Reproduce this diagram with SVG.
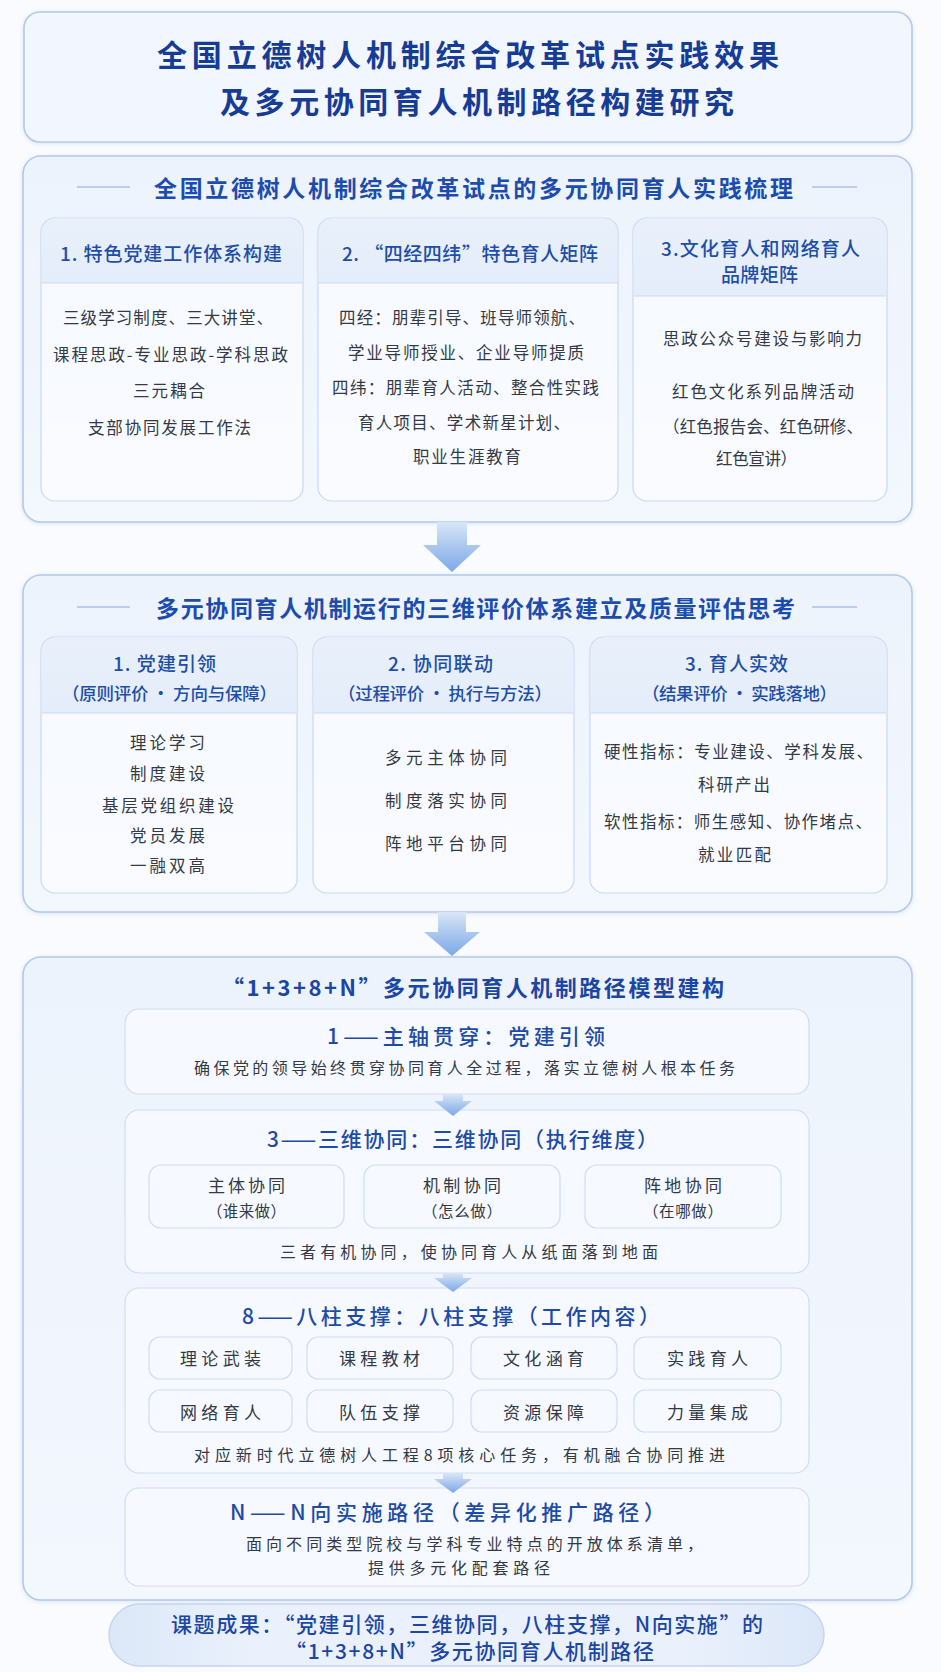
<svg xmlns="http://www.w3.org/2000/svg" width="941" height="1672" viewBox="0 0 941 1672">
<defs>
<linearGradient id="gBig" x1="0" y1="0" x2="0" y2="1"><stop offset="0" stop-color="#edf3fc"/><stop offset="1" stop-color="#f3f7fe"/></linearGradient>
<linearGradient id="gCol" x1="0" y1="0" x2="0" y2="1"><stop offset="0" stop-color="#f6f9ff"/><stop offset="1" stop-color="#f9fbff"/></linearGradient>
<linearGradient id="gBand" x1="0" y1="0" x2="0" y2="1"><stop offset="0" stop-color="#e9f0fb"/><stop offset="1" stop-color="#e4edfa"/></linearGradient>
<linearGradient id="gArrow" x1="0" y1="0" x2="0" y2="1"><stop offset="0" stop-color="#d9e6f8"/><stop offset="0.5" stop-color="#a9c6ef"/><stop offset="1" stop-color="#7ea8e6"/></linearGradient>
<linearGradient id="gPill" x1="0" y1="0" x2="1" y2="0"><stop offset="0" stop-color="#dbe7f8"/><stop offset="0.2" stop-color="#eaf1fc"/><stop offset="0.8" stop-color="#eaf1fc"/><stop offset="1" stop-color="#dbe7f8"/></linearGradient>
<filter id="sh" x="-5%" y="-5%" width="110%" height="110%"><feDropShadow dx="0" dy="1" stdDeviation="2" flood-color="#9fb8e0" flood-opacity="0.35"/></filter>
<style>
text{font-family:"Noto Sans CJK SC","Noto Sans",sans-serif;dominant-baseline:central}
.big{fill:url(#gBig);stroke:#b3c9ec;stroke-width:1.6}
.col{fill:url(#gCol);stroke:#c9d9f1;stroke-width:1.2}
.band{fill:url(#gBand)}
.div{stroke:#c9d9f1;stroke-width:1.2}
.deco{stroke:#a8c0e8;stroke-width:1.5}
.sub{fill:#f6f9ff;stroke:#cfdcf2;stroke-width:1.2}
.t0{font-size:30px;font-weight:700;fill:#163c96}
.t1{font-size:23px;font-weight:700;fill:#1d4caf}
.h{font-size:19px;font-weight:500;fill:#1f4ea8}
.hs{font-size:17.5px;font-weight:500;fill:#1f4ea8}
.b{font-size:16.5px;fill:#333a45}
.t3{font-size:22px;font-weight:700;fill:#1c46a4}
.h3{font-size:21px;font-weight:500;fill:#1d4ba8}
.s3{font-size:16px;fill:#333a45}
.p{font-size:17px;fill:#333a45}
.ps{font-size:15.5px;fill:#333a45}
.pill{font-size:21px;font-weight:500;fill:#1c46a4}
.arr{fill:url(#gArrow)}
</style>
</defs>
<rect x="0" y="0" width="941" height="1672" fill="#f9fbfe"/>

<g id="title" filter="url(#sh)">
<rect x="24" y="12" width="888" height="130" rx="16" fill="#f2f6fe" stroke="#b3c9ec" stroke-width="1.6"/>
</g>
<g id="title-text">
<text class="t0" x="157" y="53" textLength="622" lengthAdjust="spacing">全国立德树人机制综合改革试点实践效果</text>
<text class="t0" x="220" y="100" textLength="514" lengthAdjust="spacing">及多元协同育人机制路径构建研究</text>
</g>

<g id="section1">
<rect class="big" x="23" y="156" width="889" height="366" rx="18" filter="url(#sh)"/>
<line class="deco" x1="77" y1="187" x2="130" y2="187"/>
<line class="deco" x1="812" y1="187" x2="857" y2="187"/>
<text class="t1" x="154" y="187" textLength="639" lengthAdjust="spacing">全国立德树人机制综合改革试点的多元协同育人实践梳理</text>
</g>
<g id="s1-col1">
<rect class="col" x="41" y="218" width="262" height="283" rx="14"/>
<path class="band" d="M41.6,283 V232 a14,14 0 0 1 14,-13.4 H288.4 a14,14 0 0 1 14,13.4 V283 Z"/>
<line class="div" x1="41.6" y1="283" x2="302.4" y2="283"/>
<text class="h" x="60" y="252" textLength="222" lengthAdjust="spacing">1. 特色党建工作体系构建</text>
<text class="b" x="63" y="317" textLength="210" lengthAdjust="spacing">三级学习制度、三大讲堂、</text>
<text class="b" x="53" y="354" textLength="235" lengthAdjust="spacing">课程思政-专业思政-学科思政</text>
<text class="b" x="133" y="390" textLength="72" lengthAdjust="spacing">三元耦合</text>
<text class="b" x="88" y="427" textLength="163" lengthAdjust="spacing">支部协同发展工作法</text>
</g>
<g id="s1-col2">
<rect class="col" x="318" y="218" width="300" height="283" rx="14"/>
<path class="band" d="M318.6,283 V232 a14,14 0 0 1 14,-13.4 H603.4 a14,14 0 0 1 14,13.4 V283 Z"/>
<line class="div" x1="318.6" y1="283" x2="617.4" y2="283"/>
<text class="h" x="342" y="252" textLength="256" lengthAdjust="spacing">2. “四经四纬”特色育人矩阵</text>
<text class="b" x="339" y="317" textLength="246" lengthAdjust="spacing">四经：朋辈引导、班导师领航、</text>
<text class="b" x="348" y="352" textLength="236" lengthAdjust="spacing">学业导师授业、企业导师提质</text>
<text class="b" x="332" y="387" textLength="267" lengthAdjust="spacing">四纬：朋辈育人活动、整合性实践</text>
<text class="b" x="358" y="422" textLength="212" lengthAdjust="spacing">育人项目、学术新星计划、</text>
<text class="b" x="413" y="456" textLength="108" lengthAdjust="spacing">职业生涯教育</text>
</g>
<g id="s1-col3">
<rect class="col" x="633" y="218" width="254" height="283" rx="14"/>
<path class="band" d="M633.6,296 V232 a14,14 0 0 1 14,-13.4 H872.4 a14,14 0 0 1 14,13.4 V296 Z"/>
<line class="div" x1="633.6" y1="296" x2="886.4" y2="296"/>
<text class="h" x="661" y="247" textLength="199" lengthAdjust="spacing">3.文化育人和网络育人</text>
<text class="h" x="721" y="273" textLength="77" lengthAdjust="spacing">品牌矩阵</text>
<text class="b" x="663" y="338" textLength="199" lengthAdjust="spacing">思政公众号建设与影响力</text>
<text class="b" x="672" y="391" textLength="182" lengthAdjust="spacing">红色文化系列品牌活动</text>
<text class="b" x="663" y="426" textLength="200" lengthAdjust="spacing">（红色报告会、红色研修、</text>
<text class="b" x="716" y="458" textLength="81" lengthAdjust="spacing">红色宣讲）</text>
</g>

<g id="section2">
<rect class="big" x="23" y="575" width="889" height="337" rx="18" filter="url(#sh)"/>
<line class="deco" x1="77" y1="607" x2="130" y2="607"/>
<line class="deco" x1="812" y1="607" x2="857" y2="607"/>
<text class="t1" x="156" y="607" textLength="639" lengthAdjust="spacing">多元协同育人机制运行的三维评价体系建立及质量评估思考</text>
</g>
<g id="s2-col1">
<rect class="col" x="41" y="637" width="256" height="256" rx="14"/>
<path class="band" d="M41.6,713 V651 a14,14 0 0 1 14,-13.4 H282.4 a14,14 0 0 1 14,13.4 V713 Z"/>
<line class="div" x1="41.6" y1="713" x2="296.4" y2="713"/>
<text class="h" x="113" y="662" textLength="103" lengthAdjust="spacing">1. 党建引领</text>
<text class="hs" x="62" y="692" textLength="215" lengthAdjust="spacing">（原则评价 · 方向与保障）</text>
<text class="b" x="130" y="742" textLength="75" lengthAdjust="spacing">理论学习</text>
<text class="b" x="130" y="773" textLength="75" lengthAdjust="spacing">制度建设</text>
<text class="b" x="102" y="805" textLength="132" lengthAdjust="spacing">基层党组织建设</text>
<text class="b" x="130" y="835" textLength="75" lengthAdjust="spacing">党员发展</text>
<text class="b" x="130" y="865" textLength="75" lengthAdjust="spacing">一融双高</text>
</g>
<g id="s2-col2">
<rect class="col" x="313" y="637" width="261" height="256" rx="14"/>
<path class="band" d="M313.6,713 V651 a14,14 0 0 1 14,-13.4 H559.4 a14,14 0 0 1 14,13.4 V713 Z"/>
<line class="div" x1="313.6" y1="713" x2="573.4" y2="713"/>
<text class="h" x="388" y="662" textLength="105" lengthAdjust="spacing">2. 协同联动</text>
<text class="hs" x="338" y="692" textLength="214" lengthAdjust="spacing">（过程评价 · 执行与方法）</text>
<text class="b" x="385" y="757" textLength="122" lengthAdjust="spacing">多元主体协同</text>
<text class="b" x="385" y="800" textLength="122" lengthAdjust="spacing">制度落实协同</text>
<text class="b" x="385" y="843" textLength="122" lengthAdjust="spacing">阵地平台协同</text>
</g>
<g id="s2-col3">
<rect class="col" x="590" y="637" width="297" height="256" rx="14"/>
<path class="band" d="M590.6,713 V651 a14,14 0 0 1 14,-13.4 H872.4 a14,14 0 0 1 14,13.4 V713 Z"/>
<line class="div" x1="590.6" y1="713" x2="886.4" y2="713"/>
<text class="h" x="685" y="662" textLength="103" lengthAdjust="spacing">3. 育人实效</text>
<text class="hs" x="642" y="692" textLength="195" lengthAdjust="spacing">（结果评价 · 实践落地）</text>
<text class="b" x="604" y="751" textLength="269" lengthAdjust="spacing">硬性指标：专业建设、学科发展、</text>
<text class="b" x="698" y="784" textLength="72" lengthAdjust="spacing">科研产出</text>
<text class="b" x="604" y="821" textLength="268" lengthAdjust="spacing">软性指标：师生感知、协作堵点、</text>
<text class="b" x="698" y="854" textLength="73" lengthAdjust="spacing">就业匹配</text>
</g>

<g id="section3">
<rect class="big" x="23" y="957" width="889" height="643" rx="18" filter="url(#sh)"/>
<text class="t3" x="222" y="986" textLength="502" lengthAdjust="spacing">“1+3+8+N”多元协同育人机制路径模型建构</text>
</g>
<g id="s3-axis">
<rect class="sub" x="125" y="1009" width="684" height="85" rx="14"/>
<text class="h3" x="327" y="1035" textLength="278" lengthAdjust="spacing">1——主轴贯穿：党建引领</text>
<text class="s3" x="194" y="1067" textLength="541" lengthAdjust="spacing">确保党的领导始终贯穿协同育人全过程，落实立德树人根本任务</text>
</g>
<g id="s3-three">
<rect class="sub" x="125" y="1110" width="684" height="163" rx="14"/>
<text class="h3" x="267" y="1138" textLength="391" lengthAdjust="spacing">3——三维协同：三维协同（执行维度）</text>
<rect class="sub" x="149" y="1165" width="195" height="63" rx="12"/>
<rect class="sub" x="364" y="1165" width="196" height="63" rx="12"/>
<rect class="sub" x="585" y="1165" width="196" height="63" rx="12"/>
<text class="p" x="208" y="1184" textLength="77" lengthAdjust="spacing">主体协同</text>
<text class="ps" x="207" y="1210" textLength="79" lengthAdjust="spacing">（谁来做）</text>
<text class="p" x="423" y="1184" textLength="78" lengthAdjust="spacing">机制协同</text>
<text class="ps" x="422" y="1210" textLength="80" lengthAdjust="spacing">（怎么做）</text>
<text class="p" x="644" y="1184" textLength="78" lengthAdjust="spacing">阵地协同</text>
<text class="ps" x="643" y="1210" textLength="80" lengthAdjust="spacing">（在哪做）</text>
<text class="s3" x="280" y="1251" textLength="378" lengthAdjust="spacing">三者有机协同，使协同育人从纸面落到地面</text>
</g>
<g id="s3-eight">
<rect class="sub" x="125" y="1288" width="684" height="185" rx="14"/>
<text class="h3" x="242" y="1315" textLength="418" lengthAdjust="spacing">8——八柱支撑：八柱支撑（工作内容）</text>
<rect class="sub" x="149" y="1337" width="143" height="42" rx="11"/>
<rect class="sub" x="307" y="1337" width="146" height="42" rx="11"/>
<rect class="sub" x="471" y="1337" width="146" height="42" rx="11"/>
<rect class="sub" x="634" y="1337" width="147" height="42" rx="11"/>
<rect class="sub" x="149" y="1390" width="143" height="42" rx="11"/>
<rect class="sub" x="307" y="1390" width="146" height="42" rx="11"/>
<rect class="sub" x="471" y="1390" width="146" height="42" rx="11"/>
<rect class="sub" x="634" y="1390" width="147" height="42" rx="11"/>
<text class="p" x="180" y="1357" textLength="81" lengthAdjust="spacing">理论武装</text>
<text class="p" x="339" y="1357" textLength="81" lengthAdjust="spacing">课程教材</text>
<text class="p" x="503" y="1357" textLength="81" lengthAdjust="spacing">文化涵育</text>
<text class="p" x="667" y="1357" textLength="81" lengthAdjust="spacing">实践育人</text>
<text class="p" x="180" y="1411" textLength="81" lengthAdjust="spacing">网络育人</text>
<text class="p" x="339" y="1411" textLength="81" lengthAdjust="spacing">队伍支撑</text>
<text class="p" x="503" y="1411" textLength="81" lengthAdjust="spacing">资源保障</text>
<text class="p" x="667" y="1411" textLength="81" lengthAdjust="spacing">力量集成</text>
<text class="s3" x="194" y="1454" textLength="531" lengthAdjust="spacing">对应新时代立德树人工程8项核心任务，有机融合协同推进</text>
</g>
<g id="s3-n">
<rect class="sub" x="125" y="1488" width="684" height="98" rx="14"/>
<text class="h3" x="230" y="1511" textLength="435" lengthAdjust="spacing">N——N向实施路径（差异化推广路径）</text>
<text class="s3" x="246" y="1543" textLength="457" lengthAdjust="spacing">面向不同类型院校与学科专业特点的开放体系清单，</text>
<text class="s3" x="368" y="1567" textLength="182" lengthAdjust="spacing">提供多元化配套路径</text>
</g>

<g id="result">
<rect x="109" y="1604" width="715" height="62" rx="31" fill="url(#gPill)" stroke="#c3d5f0" stroke-width="1.4"/>
<text class="pill" x="171" y="1623" textLength="592" lengthAdjust="spacing">课题成果：“党建引领，三维协同，八柱支撑，N向实施”的</text>
<text class="pill" x="285" y="1650" textLength="369" lengthAdjust="spacing">“1+3+8+N”多元协同育人机制路径</text>
</g>

<g id="connectors">
<path class="arr" d="M437,522 H467 V545 H481 L452,572 L423,545 H437 Z"/>
<path class="arr" d="M438,912 H466 V932 H480 L452,956 L424,932 H438 Z"/>
<path class="arr" d="M443,1094 H463 V1101 H472 L453,1116 L434,1101 H443 Z"/>
<path class="arr" d="M443,1273 H463 V1278 H472 L453,1292 L434,1278 H443 Z"/>
<path class="arr" d="M443,1473 H463 V1479 H472 L453,1493 L434,1479 H443 Z"/>
</g>
</svg>
